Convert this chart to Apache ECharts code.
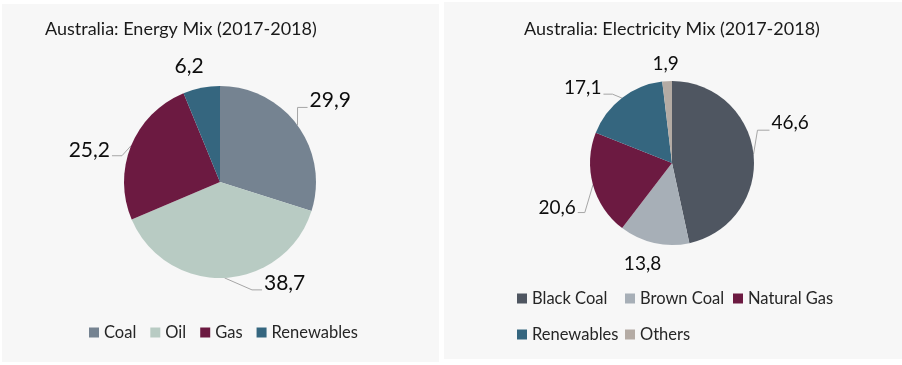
<!DOCTYPE html>
<html><head><meta charset="utf-8">
<script src="https://cdn.jsdelivr.net/npm/echarts@6/dist/echarts.min.js"></script>
<style>html,body{margin:0;padding:0;background:#fff;}#c{width:902px;height:365px;}</style>
</head><body><div id="c"></div>
<script>
const energyTitle = 'Australia: Energy Mix (2017-2018)';
const energyCategories = ['Coal', 'Oil', 'Gas', 'Renewables'];
const energyValues = [29.9, 38.7, 25.2, 6.2];
const energyColors = ['#758391', '#b8cbc3', '#6c1a41', '#35667f'];

const elecTitle = 'Australia: Electricity Mix (2017-2018)';
const elecCategories = ['Black Coal', 'Brown Coal', 'Natural Gas', 'Renewables', 'Others'];
const elecValues = [46.6, 13.8, 20.6, 17.1, 1.9];
const elecColors = ['#4f5661', '#a7afb7', '#6c1a41', '#35667f', '#b4aba4'];

const FONT = 'Lato';
const fmt = p => String(p.value).replace('.', ',');

// per-item label tweaks (style only): label offsets, leader-line bend offset k and horizontal run h
const energyLabelAdj = [
  {len: 10, len2: 8, line: true, dx: -6, dy: -19, k: 7, h: 10},
  {len: 10, len2: 8, line: true, dx: 29, dy: -5, k: 7, h: 10},
  {len: 10, len2: 8, line: true, dx: -2, dy: 8, k: 6, h: 10},
  {len: 4, len2: 0, line: false, dx: 5, dy: -18}
];
const elecLabelAdj = [
  {len: 10, len2: 8, line: true, dx: -2, dy: -30, k: 7, h: 12},
  {len: 4, len2: 0, line: false, dx: 10, dy: 17},
  {len: 10, len2: 8, line: true, dx: 0, dy: 20, k: 5, h: 7},
  {len: 10, len2: 8, line: true, dx: -2, dy: -10, k: 6, h: 9},
  {len: 4, len2: 0, line: false, dx: 14, dy: -13}
];

function buildData(cats, vals, colors, adj) {
  return cats.map((c, i) => ({
    name: c, value: vals[i],
    itemStyle: {color: colors[i]},
    labelLine: {show: adj[i].line, length: adj[i].len, length2: adj[i].len2}
  }));
}

function makeLayout(adj) {
  return p => {
    const a = adj[p.dataIndex];
    if (!a.line || !p.labelLinePoints) return {dx: a.dx, dy: a.dy};
    const r = p.labelRect;
    const nx = r.x + a.dx, ny = r.y + a.dy;
    const cy = ny + r.height / 2 + a.k;
    const p0 = p.labelLinePoints[0];
    const rightSide = (nx + r.width / 2) > p0[0];
    let p2x, p1x;
    if (rightSide) { p2x = nx - 2; p1x = p2x - a.h; }
    else { p2x = nx + r.width + 2; p1x = p2x + a.h; }
    return {dx: a.dx, dy: a.dy, labelLinePoints: [[p0[0], p0[1]], [p1x, cy], [p2x, cy]]};
  };
}

const legendText = {fontFamily: FONT, fontSize: 16.5, color: '#262626'};
const legendBase = {itemWidth: 10, itemHeight: 10, icon: 'rect', padding: 0, textStyle: legendText};

const chart = echarts.init(document.getElementById('c'), null, {renderer: 'canvas'});
chart.setOption({
  animation: false,
  backgroundColor: '#ffffff',
  graphic: [
    {type: 'rect', shape: {x: 2, y: 4, width: 437, height: 358}, style: {fill: '#f7f7f7'}, z: -10, silent: true},
    {type: 'rect', shape: {x: 444, y: 2, width: 458, height: 357}, style: {fill: '#f7f7f7'}, z: -10, silent: true}
  ],
  title: [
    {text: energyTitle, left: 45, top: 20, padding: 0, textStyle: {fontFamily: FONT, fontSize: 18, fontWeight: 'normal', color: '#1a1a1a'}},
    {text: elecTitle, left: 672, textAlign: 'center', top: 20, padding: 0, textStyle: {fontFamily: FONT, fontSize: 18, fontWeight: 'normal', color: '#1a1a1a'}}
  ],
  legend: [
    Object.assign({}, legendBase, {data: energyCategories, left: 89, top: 324, itemGap: 14}),
    Object.assign({}, legendBase, {data: [elecCategories[0], elecCategories[3]], left: 517, top: 290, orient: 'vertical', itemGap: 19}),
    Object.assign({}, legendBase, {data: [elecCategories[1], elecCategories[4]], left: 625, top: 290, orient: 'vertical', itemGap: 19}),
    Object.assign({}, legendBase, {data: [elecCategories[2]], left: 733, top: 290, orient: 'vertical', itemGap: 19})
  ],
  series: [
    {
      type: 'pie', center: [220, 182], radius: 96, startAngle: 90, clockwise: true,
      silent: true,
      data: buildData(energyCategories, energyValues, energyColors, energyLabelAdj),
      label: {show: true, formatter: fmt, fontFamily: FONT, fontSize: 21, color: '#0d0d0d', distanceToLabelLine: 2},
      labelLine: {lineStyle: {color: '#a6a6a6', width: 1}},
      labelLayout: makeLayout(energyLabelAdj),
      itemStyle: {borderWidth: 0}
    },
    {
      type: 'pie', center: [672, 163], radius: 82, startAngle: 90, clockwise: true,
      silent: true,
      data: buildData(elecCategories, elecValues, elecColors, elecLabelAdj),
      label: {show: true, formatter: fmt, fontFamily: FONT, fontSize: 19, color: '#0d0d0d', distanceToLabelLine: 2},
      labelLine: {lineStyle: {color: '#a6a6a6', width: 1}},
      labelLayout: makeLayout(elecLabelAdj),
      itemStyle: {borderWidth: 0}
    }
  ]
});
</script></body></html>
